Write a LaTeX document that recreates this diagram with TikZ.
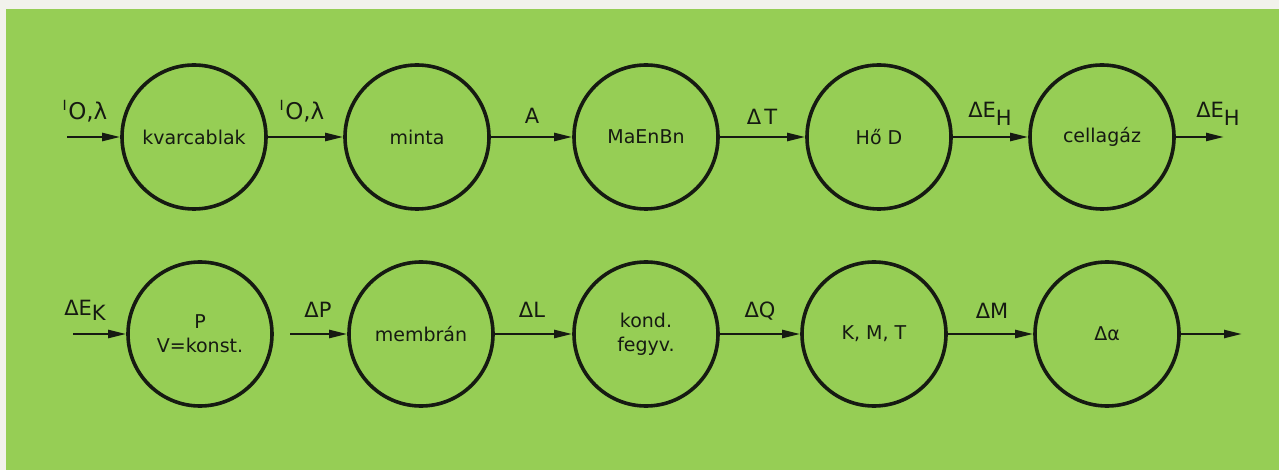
\documentclass[tikz,border=0pt]{standalone}
\usepackage{fontspec}
\setmainfont{DejaVu Sans}
\usetikzlibrary{arrows.meta}
\definecolor{paper}{RGB}{150,206,85}
\definecolor{margin}{RGB}{242,242,236}
\definecolor{ink}{RGB}{22,26,18}
% quantity with a lowered index letter
\newcommand\lowidx[3]{#1\raisebox{-#3}{#2}}
% intensity and wavelength label
\newcommand\intens{{\fontsize{14}{14}\selectfont\raisebox{0.62em}{I}}\kern1.5pt O,λ}
\begin{document}
\begin{tikzpicture}[x=1pt,y=-1pt,
  stage/.style={circle,draw=ink,line width=3.6pt,minimum size=144pt,inner sep=0pt,
    align=center,text=ink,font=\fontsize{19}{24}\selectfont},
  flow/.style={draw=ink,line width=2.4pt,-{Triangle[length=18pt,width=8pt]}},
  qty/.style={inner sep=0pt,text=ink,font=\fontsize{21}{23}\selectfont},
  big/.style={inner sep=0pt,text=ink,font=\fontsize{23}{25}\selectfont}]
\useasboundingbox (0,0) rectangle (1279,470);
\fill[margin] (0,0) rectangle (1279,470);
\fill[paper] (6,9) rectangle (1279,470);

% upper chain
\node[stage] (k1) at (194,137) {kvarcablak};
\node[stage] (k2) at (417,137) {minta};
\node[stage] (k3) at (646,137) {MaEnBn};
\node[stage] (k4) at (879,137) {Hő D};
\node[stage] (k5) at (1102,137) {cellagáz};
\coordinate (in1) at (67,137);
\coordinate (out1) at (1224,137);

\draw[flow] (in1) -- (k1);
\draw[flow] (k1) -- (k2);
\draw[flow] (k2) -- (k3);
\draw[flow] (k3) -- (k4);
\draw[flow] (k4) -- (k5);
\draw[flow] (k5) -- (out1);

\node[big] (l1) at (85,111) {\intens};
\node[big] (l2) at (302,111) {\intens};
\node[qty] (l3) at (532,116) {A};
\node[qty] (l4) at (762,117) {Δ\kern3pt T};
\node[qty] (l5) at (990,114) {\lowidx{ΔE}{H}{8pt}};
\node[qty] (l6) at (1218,114) {\lowidx{ΔE}{H}{8pt}};

% lower chain
\node[stage] (b1) at (200,334) {P\\V=konst.};
\node[stage] (b2) at (421,334) {membrán};
\node[stage] (b3) at (646,334) {kond.\\fegyv.};
\node[stage] (b4) at (874,334) {K, M, T};
\node[stage] (b5) at (1107,334) {Δα};
\coordinate (in2) at (73,334);
\coordinate (dp) at (290,334);
\coordinate (out2) at (1242,334);

\draw[flow] (in2) -- (b1);
\draw[flow] (dp) -- (b2);
\draw[flow] (b2) -- (b3);
\draw[flow] (b3) -- (b4);
\draw[flow] (b4) -- (b5);
\draw[flow] (b5) -- (out2);

\node[qty] (m1) at (85,310) {\lowidx{ΔE}{K}{5pt}};
\node[qty] (m2) at (318,310) {ΔP};
\node[qty] (m3) at (532,310) {ΔL};
\node[qty] (m4) at (760,311) {ΔQ};
\node[qty] (m5) at (992,311) {ΔM};
\end{tikzpicture}
\end{document}
